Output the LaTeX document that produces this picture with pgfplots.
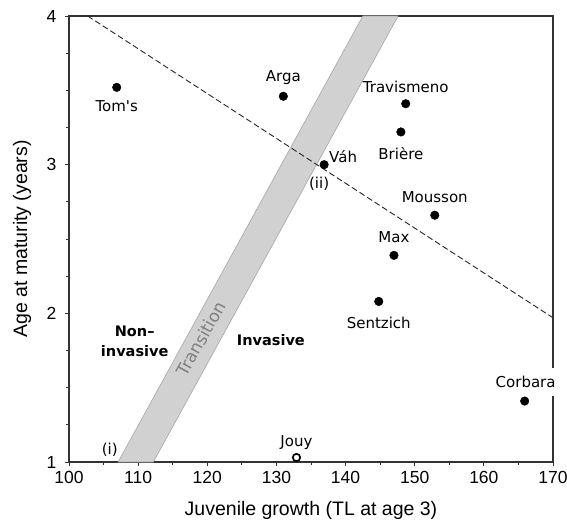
\documentclass[border=0pt]{standalone}
\usepackage{pgfplots}
\pgfplotsset{compat=1.18}
\usepackage{fontspec}
\setmainfont{Liberation Sans}
\newfontfamily\lbl{DejaVu Sans}
\begin{document}
\begin{tikzpicture}
\begin{axis}[
  scale only axis, width=484pt, height=446pt,
  xmin=100, xmax=170, ymin=1, ymax=4,
  xtick={100,110,...,170}, ytick={1,2,3,4},
  minor x tick num=1, minor y tick num=3,
  tick align=outside, tick pos=left,
  major tick length=4pt, minor tick length=2.5pt,
  axis line style={line width=1.4pt, black!80},
  every tick/.style={black!80, line width=0.9pt},
  ticklabel style={font=\fontsize{17.5}{17.5}\selectfont},
  xticklabel style={yshift=-2pt},
  yticklabel style={xshift=-5pt},
  /pgf/number format/assume math mode=true,
  xlabel={Juvenile growth (TL at age 3)},
  ylabel={Age at maturity (years)},
  label style={font=\fontsize{19.5}{19.5}\selectfont},
  xlabel style={at={(axis description cs:0.5,-0.1076)}, anchor=center},
  ylabel style={at={(axis description cs:-0.097,0.5)}, anchor=center},
  clip=false,
]
% transition band
\addplot[fill=black!18, draw=black!35, line width=0.6pt] coordinates {(107.1,1) (112.2,1) (147.6,4) (142.5,4)} -- cycle;
% dashed line
\addplot[black!85, line width=0.9pt, dash pattern=on 6pt off 3pt] coordinates {(102.7,4) (170,1.97)};
% invasive populations
\addplot[only marks, mark=*, mark size=4.3pt, black] coordinates {
 (106.9,3.52) (131.0,3.46) (148.7,3.41) (148.0,3.22) (136.9,3.00)
 (152.9,2.66) (147.0,2.39) (144.8,2.08) (165.9,1.41)};
% Jouy
\addplot[only marks, mark=o, mark size=3.7pt, line width=1.7pt, black] coordinates {(132.9,1.03)};
\coordinate (corb) at (axis cs:165.9,1.41);
\begin{scope}[every node/.style={font=\lbl\fontsize{15}{15}\selectfont, inner sep=0pt}]
\node[yshift=-19pt] at (axis cs:106.9,3.52) {Tom's};
\node[yshift=19pt] at (axis cs:131.0,3.46) {Arga};
\node[yshift=17pt] at (axis cs:148.7,3.41) {Travismeno};
\node[yshift=-22pt] at (axis cs:148.0,3.22) {Brière};
\node[xshift=19pt, yshift=8pt] at (axis cs:136.9,3.00) {Váh};
\node[xshift=-5pt, yshift=-19pt] at (axis cs:136.9,3.00) {(ii)};
\node[yshift=18pt] at (axis cs:152.9,2.66) {Mousson};
\node[yshift=18pt] at (axis cs:147.0,2.39) {Max};
\node[yshift=-21pt] at (axis cs:144.8,2.08) {Sentzich};
\node[yshift=15pt] at (axis cs:132.9,1.03) {Jouy};
\node at (axis cs:105.9,1.08) {(i)};
\node[font=\lbl\bfseries\fontsize{14.5}{20}\selectfont, align=center] at (axis cs:109.5,1.81) {Non–\\invasive};
\node[font=\lbl\bfseries\fontsize{14.5}{14.5}\selectfont] at (axis cs:129.2,1.82) {Invasive};
\node[rotate=61, text=black!50, font=\lbl\fontsize{17}{17}\selectfont] at (axis cs:119.1,1.83) {Transition};
\end{scope}
\end{axis}
\node[font=\lbl\fontsize{15}{15}\selectfont, fill=white, inner xsep=4pt, minimum height=28pt, xshift=1pt] at ([yshift=19pt]corb) {Corbara};
\pgfresetboundingbox
\useasboundingbox ([shift={(-69pt,-63pt)}]current axis.south west) rectangle ([shift={(14pt,16pt)}]current axis.north east);
\end{tikzpicture}
\end{document}
